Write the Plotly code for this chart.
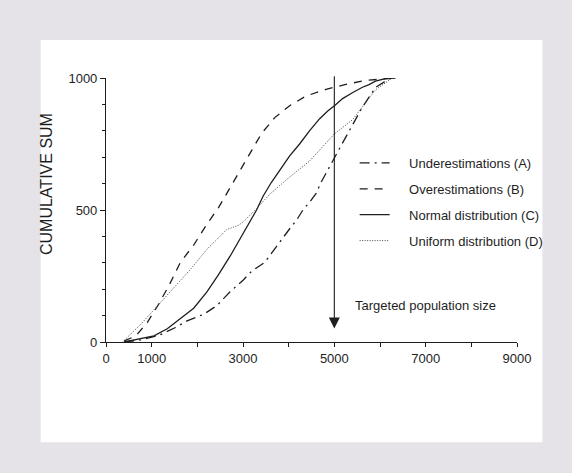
import plotly.graph_objects as go

# ---- data ----
a_x = [399, 761, 1159, 1522, 1775, 2138, 2428, 2717, 3007, 3188, 3478, 3587, 3732, 3877, 4022, 4167, 4312, 4456, 4601, 4710, 4804, 4928, 5072, 5326, 5616, 5906, 6232]
a_y = [0, 8, 25, 55, 80, 105, 138, 190, 235, 268, 302, 328, 359, 397, 429, 460, 500, 529, 563, 605, 637, 674, 720, 800, 890, 965, 1000]

b_x = [399, 652, 906, 1159, 1391, 1630, 1920, 2196, 2464, 2700, 2935, 3188, 3406, 3696, 4022, 4384, 4819, 5254, 5688, 6341]
b_y = [4, 23, 74, 145, 218, 302, 367, 443, 509, 578, 650, 725, 790, 850, 895, 932, 957, 976, 991, 1000]

c_x = [399, 616, 1051, 1341, 1630, 1920, 2210, 2464, 2717, 3007, 3152, 3297, 3442, 3623, 3804, 4022, 4239, 4456, 4674, 4855, 5022, 5181, 5404, 5616, 5761, 5900, 6123, 6341]
c_y = [0, 8, 23, 50, 88, 128, 190, 255, 325, 410, 455, 500, 553, 605, 650, 705, 750, 800, 845, 875, 898, 922, 945, 965, 975, 988, 998, 1000]

d_x = [362, 761, 1123, 1485, 1848, 2210, 2428, 2645, 2899, 3007, 3152, 3297, 3587, 4022, 4456, 4746, 5000, 5398, 5761, 5900, 6268]
d_y = [0, 67, 136, 206, 275, 351, 388, 426, 442, 455, 480, 505, 560, 625, 685, 738, 788, 842, 925, 955, 1000]

series_names = ["Underestimations (A)", "Overestimations (B)",
                "Normal distribution (C)", "Uniform distribution (D)"]

x_tickvals = [0, 1000, 2000, 3000, 4000, 5000, 6000, 7000, 8000, 9000]
x_ticktext = ["0", "1000", "", "3000", "", "5000", "", "7000", "", "9000"]
y_tickvals = [0, 500, 1000]

target_x = 5000
target_top = 1012
target_tip = 51
target_label = "Targeted population size"
y_title = "CUMULATIVE SUM"

FONT = "Liberation Sans, Arial, sans-serif"
INK = "#1e1e1e"
PAD = "\u00a0" * 4

fig = go.Figure()
styles = [
    dict(dash="10px,5px,2px,5px", width=1.3, color=INK),
    dict(dash="8px,7px", width=1.3, color=INK),
    dict(dash="solid", width=1.3, color=INK),
    dict(dash="1px,1.5px", width=1.0, color="#444444"),
]
for i, (xs, ys) in enumerate([(a_x, a_y), (b_x, b_y), (c_x, c_y), (d_x, d_y)]):
    fig.add_trace(go.Scatter(
        x=xs, y=ys, mode="lines", name=PAD + series_names[i],
        line=styles[i], legendgroup="g%d" % i,
    ))

fig.add_annotation(
    x=target_x, y=target_tip, ax=target_x, ay=target_top,
    xref="x", yref="y", axref="x", ayref="y",
    showarrow=True, arrowhead=2, arrowsize=2.0, arrowwidth=1.1,
    arrowcolor=INK, text="",
)
fig.add_annotation(
    x=5412, y=138, xref="x", yref="y", text=target_label,
    showarrow=False, xanchor="left", yanchor="middle",
    font=dict(family=FONT, size=13, color=INK),
)
fig.add_annotation(
    x=-0.145, y=0.60, xref="paper", yref="paper", text=y_title,
    textangle=-90, showarrow=False, xanchor="center", yanchor="middle",
    font=dict(family=FONT, size=16, color=INK),
)

# white panel on grey page
fig.add_shape(type="rect", xref="paper", yref="paper",
              x0=(40 - 105.5) / 412, x1=(543 - 105.5) / 412,
              y0=(342.5 - 443) / 264.5, y1=(342.5 - 40) / 264.5,
              fillcolor="white", line=dict(width=0), layer="below")

fig.update_layout(
    width=572, height=473,
    margin=dict(l=105.5, r=54.5, t=78, b=130.5),
    paper_bgcolor="#e5e3e8", plot_bgcolor="rgba(0,0,0,0)",
    font=dict(family=FONT, size=13, color=INK),
    showlegend=True,
    legend=dict(x=0.605, y=0.735, xanchor="left", yanchor="top",
                bgcolor="rgba(0,0,0,0)", traceorder="grouped",
                tracegroupgap=6, font=dict(family=FONT, size=13, color=INK),
                itemwidth=30),
)
fig.update_xaxes(range=[0, 9000], showgrid=False, zeroline=False,
                 showline=True, linecolor=INK, linewidth=1.1,
                 tickmode="array", tickvals=x_tickvals, ticktext=x_ticktext,
                 ticks="outside", ticklen=4, tickwidth=1.1, tickcolor=INK,
                 tickfont=dict(family=FONT, size=13, color=INK))
fig.update_yaxes(range=[0, 1000], showgrid=False, zeroline=False,
                 showline=True, linecolor=INK, linewidth=1.1,
                 tickmode="array", tickvals=y_tickvals,
                 ticks="outside", ticklen=5, tickwidth=1.1, tickcolor=INK,
                 tickfont=dict(family=FONT, size=13, color=INK),
                 minor=dict(dtick=100, ticks="outside", ticklen=3,
                            tickwidth=1, tickcolor=INK))

fig.write_html("out.html", config={"displayModeBar": False},
               post_script="document.body.style.margin='0';")
